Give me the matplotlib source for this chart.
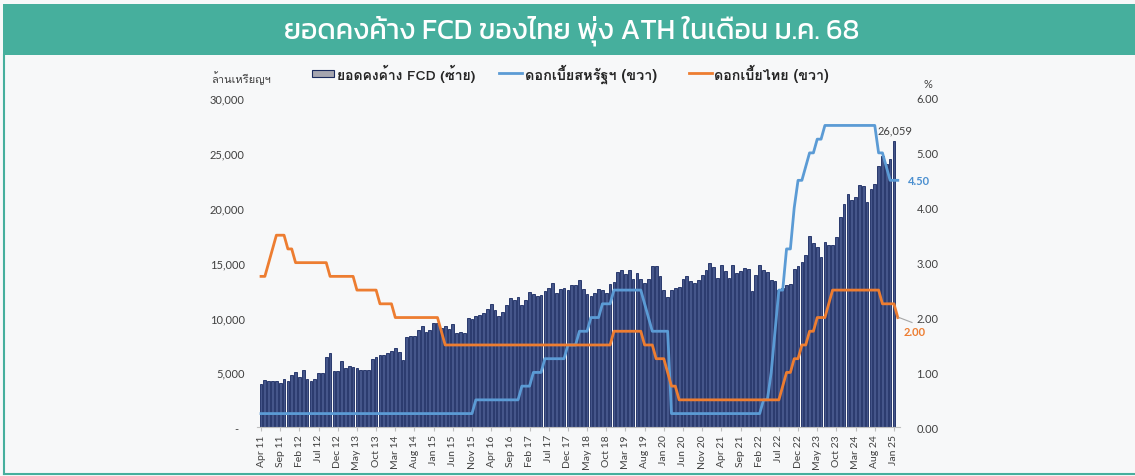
import numpy as np
import pandas as pd
import matplotlib
matplotlib.use("Agg")
import matplotlib.pyplot as plt
from matplotlib import font_manager as fm
from matplotlib.patches import Rectangle
from matplotlib.lines import Line2D

# ---------------- data ----------------
months = pd.date_range("2011-04-01", "2025-02-01", freq="MS")
categories = [d.strftime("%b %y") for d in months]  # Apr 11 ... Feb 25

fcd = [
    3920, 4315, 4224, 4255, 4194, 4040, 4376, 4255, 4770, 5015,
    4620, 5195, 4437, 4194, 4376, 4985, 4985, 6384, 6810, 5165,
    5165, 6020, 5380, 5590, 5500, 5410, 5225, 5255, 5195, 6230,
    6445, 6565, 6625, 6750, 6990, 7205, 6840, 6170, 8270, 8300,
    8360, 8870, 9210, 8660, 8900, 9480, 9480, 9030, 9270, 8960,
    9390, 8600, 8660, 8600, 9980,
    9880, 10120, 10240, 10400, 10790, 11250, 10700, 10180, 10460, 11100,
    11770, 11580, 11860, 11100, 11580, 12310, 12100, 11950, 12010, 12440,
    12650, 13110, 12190, 12620, 12680, 12500, 12980, 12980, 13380, 12620,
    12130, 11950, 12220, 12590, 12470, 12250, 13040, 13200, 14190, 14320,
    13990, 14350, 13530, 14020, 13500, 13130, 13530, 14690, 14690, 13810,
    12470, 11890, 12470, 12680, 12800,
    13470, 13740, 13350, 13160, 13400, 13890, 14290, 14930, 14560, 13560,
    14780, 14260, 13590, 14780, 14050, 14260, 14470, 14440, 12460, 13920,
    14780, 14320, 14140, 13400, 13370, 12500, 12700, 12920, 13070, 14440,
    14650, 15050, 15660, 17450, 16780, 16420, 15510, 16840, 16630, 16630,
    17300, 19120, 20310, 21250, 20680, 21010, 22110, 21950, 20550, 21670,
    22200, 23840, 24690, 24020, 24450, 26059,
    np.nan,
]

us_rate = [
    0.25, 0.25, 0.25, 0.25, 0.25, 0.25, 0.25, 0.25, 0.25,                 # 2011 Apr-Dec
    0.25, 0.25, 0.25, 0.25, 0.25, 0.25, 0.25, 0.25, 0.25, 0.25, 0.25, 0.25,  # 2012
    0.25, 0.25, 0.25, 0.25, 0.25, 0.25, 0.25, 0.25, 0.25, 0.25, 0.25, 0.25,  # 2013
    0.25, 0.25, 0.25, 0.25, 0.25, 0.25, 0.25, 0.25, 0.25, 0.25, 0.25, 0.25,  # 2014
    0.25, 0.25, 0.25, 0.25, 0.25, 0.25, 0.25, 0.25, 0.25, 0.25, 0.25, 0.50,  # 2015
    0.50, 0.50, 0.50, 0.50, 0.50, 0.50, 0.50, 0.50, 0.50, 0.50, 0.50, 0.75,  # 2016
    0.75, 0.75, 1.00, 1.00, 1.00, 1.25, 1.25, 1.25, 1.25, 1.25, 1.25, 1.50,  # 2017
    1.50, 1.50, 1.75, 1.75, 1.75, 2.00, 2.00, 2.00, 2.25, 2.25, 2.25, 2.50,  # 2018
    2.50, 2.50, 2.50, 2.50, 2.50, 2.50, 2.50, 2.25, 2.00, 1.75, 1.75, 1.75,  # 2019
    1.75, 1.75, 0.25, 0.25, 0.25, 0.25, 0.25, 0.25, 0.25, 0.25, 0.25, 0.25,  # 2020
    0.25, 0.25, 0.25, 0.25, 0.25, 0.25, 0.25, 0.25, 0.25, 0.25, 0.25, 0.25,  # 2021
    0.25, 0.25, 0.50, 0.50, 1.00, 1.75, 2.50, 2.50, 3.25, 3.25, 4.00, 4.50,  # 2022
    4.50, 4.75, 5.00, 5.00, 5.25, 5.25, 5.50, 5.50, 5.50, 5.50, 5.50, 5.50,  # 2023
    5.50, 5.50, 5.50, 5.50, 5.50, 5.50, 5.50, 5.50, 5.00, 5.00, 4.75, 4.50,  # 2024
    4.50, 4.50,                                                           # 2025
]

th_rate = [
    2.75, 2.75, 3.00, 3.25, 3.50, 3.50, 3.50, 3.25, 3.25,                 # 2011 Apr-Dec
    3.00, 3.00, 3.00, 3.00, 3.00, 3.00, 3.00, 3.00, 3.00, 2.75, 2.75, 2.75,  # 2012
    2.75, 2.75, 2.75, 2.75, 2.50, 2.50, 2.50, 2.50, 2.50, 2.50, 2.25, 2.25,  # 2013
    2.25, 2.25, 2.00, 2.00, 2.00, 2.00, 2.00, 2.00, 2.00, 2.00, 2.00, 2.00,  # 2014
    2.00, 2.00, 1.75, 1.50, 1.50, 1.50, 1.50, 1.50, 1.50, 1.50, 1.50, 1.50,  # 2015
    1.50, 1.50, 1.50, 1.50, 1.50, 1.50, 1.50, 1.50, 1.50, 1.50, 1.50, 1.50,  # 2016
    1.50, 1.50, 1.50, 1.50, 1.50, 1.50, 1.50, 1.50, 1.50, 1.50, 1.50, 1.50,  # 2017
    1.50, 1.50, 1.50, 1.50, 1.50, 1.50, 1.50, 1.50, 1.50, 1.50, 1.50, 1.75,  # 2018
    1.75, 1.75, 1.75, 1.75, 1.75, 1.75, 1.75, 1.50, 1.50, 1.50, 1.25, 1.25,  # 2019
    1.25, 1.00, 0.75, 0.75, 0.50, 0.50, 0.50, 0.50, 0.50, 0.50, 0.50, 0.50,  # 2020
    0.50, 0.50, 0.50, 0.50, 0.50, 0.50, 0.50, 0.50, 0.50, 0.50, 0.50, 0.50,  # 2021
    0.50, 0.50, 0.50, 0.50, 0.50, 0.50, 0.50, 0.75, 1.00, 1.00, 1.25, 1.25,  # 2022
    1.50, 1.50, 1.75, 1.75, 2.00, 2.00, 2.00, 2.25, 2.50, 2.50, 2.50, 2.50,  # 2023
    2.50, 2.50, 2.50, 2.50, 2.50, 2.50, 2.50, 2.50, 2.50, 2.25, 2.25, 2.25,  # 2024
    2.25, 2.00,                                                           # 2025
]

left_ticks = [0, 5000, 10000, 15000, 20000, 25000, 30000]
right_ticks = [0, 1, 2, 3, 4, 5, 6]

title = "ยอดคงค้าง FCD ของไทย พุ่ง ATH ในเดือน ม.ค. 68"
legend_labels = ["ยอดคงค้าง FCD (ซ้าย)", "ดอกเบี้ยสหรัฐฯ (ขวา)", "ดอกเบี้ยไทย (ขวา)"]
left_unit = "ล้านเหรียญฯ"
right_unit = "%"

# ---------------- fonts ----------------
def thai_families():
    found = []
    try:
        from fontTools.ttLib import TTFont
    except Exception:
        return found
    for f in fm.fontManager.ttflist:
        try:
            tt = TTFont(f.fname, fontNumber=0, lazy=True)
            cmap = tt.getBestCmap()
            if cmap and 0x0E22 in cmap and 0x0E49 in cmap and 0x0E04 in cmap:
                if f.name not in found:
                    found.append(f.name)
        except Exception:
            pass
    return found

thai = thai_families()

def pick(prefs):
    for p in prefs:
        if p in thai:
            return [p, "DejaVu Sans"]
    return thai[:1] + ["DejaVu Sans"]

THAI = pick(["Loma", "Tahoma", "Leelawadee UI", "Sarabun", "Anuphan"])
TITLE_FONT = pick(["Kanit", "Prompt", "Mitr", "Anuphan", "Bai Jamjuree", "Loma"])
LAT = "Lato"

# ---------------- figure ----------------
W, H = 1135, 477
fig = plt.figure(figsize=(W / 100, H / 100), dpi=100)
fig.patch.set_facecolor("#f7f8f9")

def fx(px):
    return px / W

def fy(py):
    return 1 - py / H

teal = "#46AF9D"
fig.add_artist(Rectangle((fx(3), fy(56)), fx(1135 - 3), 51 / H, transform=fig.transFigure,
                         facecolor=teal, edgecolor="none", zorder=0))
fig.add_artist(Line2D([fx(3.5), fx(3.5)], [fy(56), fy(474.5)], transform=fig.transFigure,
                      color=teal, lw=1.5))
fig.add_artist(Line2D([fx(3.5), fx(1135)], [fy(474.5), fy(474.5)], transform=fig.transFigure,
                      color=teal, lw=1.5))
fig.text(fx(572), fy(31), title, color="white", fontsize=20.5, ha="center", va="center",
         family=TITLE_FONT, fontweight="normal")

n = len(categories)
x = np.arange(n)
L, R = 257.2, 899.7
B, T = 428.3, 99.0
ax = fig.add_axes([fx(L), fy(B), (R - L) / W, (B - T) / H])
ax.set_facecolor("none")
ax.bar(x, fcd, width=0.72, color="#45568a", edgecolor="#172860", linewidth=0.6)
ax.set_xlim(-1, 166.5)
ax.set_ylim(0, 30000)
ax.set_yticks(left_ticks)
ax.set_yticklabels(["-  "] + [f"{v:,}" for v in left_ticks[1:]])
tick_pos = list(range(0, 166, 5))
ax.set_xticks(tick_pos)
ax.set_xticklabels([categories[i] for i in tick_pos], rotation=90, fontsize=7.5,
                   family=LAT, color="#404040")
for s in ["top", "left", "right"]:
    ax.spines[s].set_visible(False)
ax.spines["bottom"].set_color("#bfbfbf")
ax.tick_params(axis="x", length=3, color="#bfbfbf", pad=2)
ax.tick_params(axis="y", length=0, pad=9, labelsize=8, labelcolor="#404040")
for t in ax.get_yticklabels():
    t.set_family(LAT)

ax2 = ax.twinx()
ax2.set_ylim(0, 6)
ax2.plot(x, us_rate, color="#5B9BD5", lw=2.0, clip_on=False, solid_joinstyle="round")
ax2.plot(x, th_rate, color="#ED7D31", lw=2.0, clip_on=False, solid_joinstyle="round")
ax2.set_yticks(right_ticks)
ax2.set_yticklabels([f"{v:.2f}" for v in right_ticks])
ax2.tick_params(axis="y", length=0, pad=12, labelsize=8, labelcolor="#404040")
for t in ax2.get_yticklabels():
    t.set_family(LAT)
for s in ax2.spines.values():
    s.set_visible(False)

# annotations
ax.annotate(f"{fcd[165]:,}", xy=(165, fcd[165]), xytext=(fx(895), fy(131)),
            textcoords="figure fraction", ha="center", va="center", fontsize=8,
            color="#404040", family=LAT)
fig.text(fx(908), fy(181.5), f"{us_rate[-1]:.2f}", color="#4A8FD0", fontsize=8,
         fontweight="bold", ha="left", va="center", family=LAT)
fig.text(fx(904), fy(333), f"{th_rate[-1]:.2f}", color="#ED7D31", fontsize=8,
         fontweight="bold", ha="left", va="center", family=LAT)
fig.add_artist(Line2D([fx(899), fx(912)], [fy(318.5), fy(323.5)], transform=fig.transFigure,
                      color="#a6a6a6", lw=0.8))

# units
fig.text(fx(211), fy(78), left_unit, fontsize=8, color="#404040", ha="left", va="center",
         family=THAI)
fig.text(fx(928), fy(85), right_unit, fontsize=8, color="#404040", ha="center", va="center",
         family=LAT)

# legend (manual)
ly = fy(74)
fig.add_artist(Rectangle((fx(312), fy(77.5)), fx(22), 6.5 / H, transform=fig.transFigure,
                         facecolor="#a6a6b0", edgecolor="#1b2b5e", lw=0.8))
fig.text(fx(337), ly, legend_labels[0], fontsize=10, ha="left", va="center", family=THAI,
         fontweight="bold", color="#262626")
fig.add_artist(Line2D([fx(499), fx(522)], [ly, ly], transform=fig.transFigure,
                      color="#5B9BD5", lw=2.0))
fig.text(fx(525), ly, legend_labels[1], fontsize=10.4, ha="left", va="center", family=THAI,
         fontweight="bold", color="#262626")
fig.add_artist(Line2D([fx(689), fx(712)], [ly, ly], transform=fig.transFigure,
                      color="#ED7D31", lw=2.0))
fig.text(fx(714), ly, legend_labels[2], fontsize=10.3, ha="left", va="center", family=THAI,
         fontweight="bold", color="#262626")

fig.savefig("out.png", dpi=100, facecolor=fig.get_facecolor())
